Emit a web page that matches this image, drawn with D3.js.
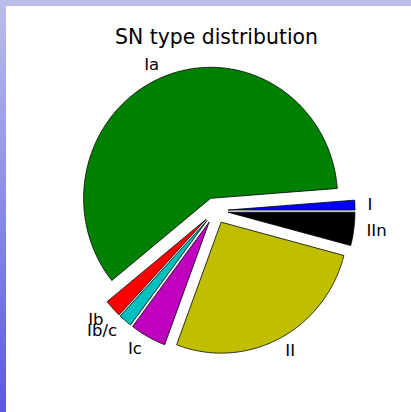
<!DOCTYPE html>
<html><head><meta charset="utf-8">
<script src="https://cdn.jsdelivr.net/npm/d3@7"></script>
<style>html,body{margin:0;padding:0;background:#fff;}svg{display:block;}</style>
</head><body>
<script>
const categories = ["I", "Ia", "Ib", "Ib/c", "Ic", "II", "IIn"];
const values = [1.2, 59.6, 2.2, 1.7, 4.6, 26.6, 4.1];
const colors = ["#0000ff", "#008000", "#ff0000", "#00bfbf", "#bf00bf", "#bfbf00", "#000000"];
const explode = [0.1, 0.1, 0.1, 0.1, 0.1, 0.1, 0.1];
const title = "SN type distribution";

const W = 411, H = 412;
const svg = d3.select("body").append("svg").attr("width", W).attr("height", H);

const defs = svg.append("defs");
const g1 = defs.append("linearGradient").attr("id", "lg").attr("x1", 0).attr("y1", 0).attr("x2", 0).attr("y2", 1);
g1.append("stop").attr("offset", "0%").attr("stop-color", "#bdbdea");
g1.append("stop").attr("offset", "100%").attr("stop-color", "#5a5ae2");
svg.append("rect").attr("x", 0).attr("y", 0).attr("width", W).attr("height", H).attr("fill", "#fff");
svg.append("rect").attr("x", 0).attr("y", 0).attr("width", W).attr("height", 6).attr("fill", "#bbbbea");
svg.append("rect").attr("x", 0).attr("y", 0).attr("width", 6).attr("height", H).attr("fill", "url(#lg)");

const cx = 215.3, cy = 210.5, rx = 127, ry = 131;
const x = d3.scaleLinear().domain([-1.25, 1.25]).range([cx - 1.25 * rx, cx + 1.25 * rx]);
const y = d3.scaleLinear().domain([-1.25, 1.25]).range([cy + 1.25 * ry, cy - 1.25 * ry]);

const pie = d3.pie().sort(null).startAngle(0).endAngle(2 * Math.PI);
const arcs = pie(values);
const line = d3.line().x(d => x(d[0])).y(d => y(d[1]));

arcs.forEach((a, i) => {
  const mid = (a.startAngle + a.endAngle) / 2;
  const ox = explode[i] * Math.cos(mid), oy = explode[i] * Math.sin(mid);
  const pts = [[ox, oy]];
  const n = Math.max(4, Math.ceil((a.endAngle - a.startAngle) / 0.01));
  for (let k = 0; k <= n; k++) {
    const t = a.startAngle + (a.endAngle - a.startAngle) * k / n;
    pts.push([ox + Math.cos(t), oy + Math.sin(t)]);
  }
  pts.push([ox, oy]);
  svg.append("path").attr("d", line(pts) + "Z")
    .attr("fill", colors[i]).attr("stroke", "#000").attr("stroke-width", 0.8)
    .attr("stroke-linejoin", "miter");
  const lx = ox + 1.1 * Math.cos(mid), ly = oy + 1.1 * Math.sin(mid);
  svg.append("text").attr("x", x(lx)).attr("y", y(ly) + (i === 2 ? 2 : 0))
    .attr("text-anchor", lx > 0 ? "start" : "end")
    .attr("dominant-baseline", "central")
    .attr("font-family", "DejaVu Sans").attr("font-size", 16.5).attr("fill", "#000")
    .text(categories[i]);
});

svg.append("text").attr("x", 216.5).attr("y", 44).attr("text-anchor", "middle")
  .attr("font-family", "DejaVu Sans").attr("font-size", 20.4).attr("fill", "#000")
  .text(title);
</script>
</body></html>
